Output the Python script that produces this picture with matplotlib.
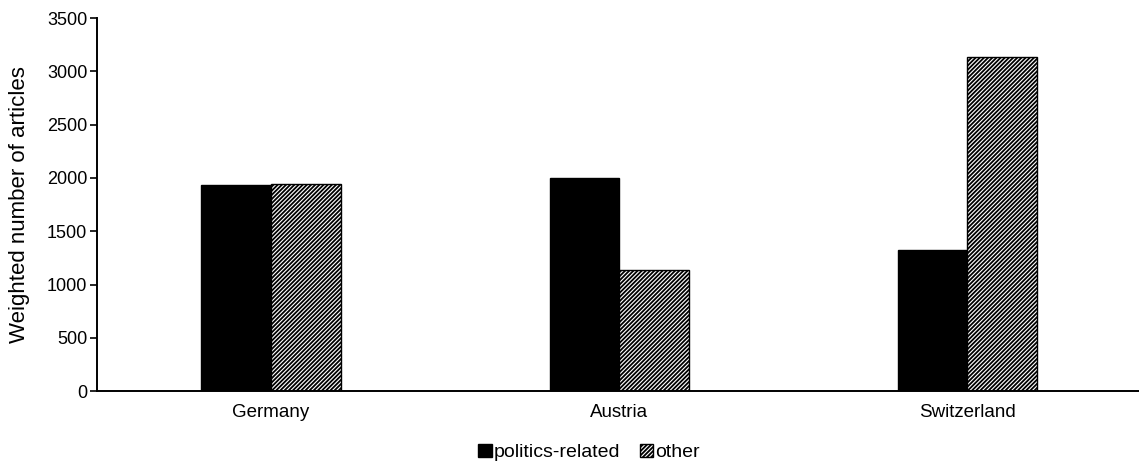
import numpy as np
import matplotlib.pyplot as plt

# Values
countries = ['Germany', 'Austria', 'Switzerland']
politics = [1930, 1995, 1323]
other = [1941, 1135, 3135]
y_ticks = [0, 500, 1000, 1500, 2000, 2500, 3000, 3500]

plt.rcParams['font.family'] = ['Liberation Sans', 'DejaVu Sans']
plt.rcParams['hatch.linewidth'] = 1.3

fig = plt.figure(figsize=(11.39, 4.65), dpi=100)
ax = fig.add_axes([0.0852, 0.159, 0.917, 0.802])

x = np.arange(len(countries))
w = 0.2
ax.bar(x - w / 2, politics, w, color='black', edgecolor='black', linewidth=1,
       label='politics-related')
ax.bar(x + w / 2, other, w, color='white', edgecolor='black', linewidth=1,
       hatch='////////', label='other')

ax.set_xlim(-0.5, 2.5)
ax.set_ylim(0, 3500)
ax.set_yticks(y_ticks)
ax.set_xticks(x)
ax.set_xticklabels(countries, fontsize=13.5)
ax.tick_params(axis='x', length=0, pad=9)
ax.tick_params(axis='y', labelsize=13, length=5, width=1.2, direction='out', pad=2)
ax.set_ylabel('Weighted number of articles', fontsize=16)
ax.yaxis.set_label_coords(-0.064, 0.5)

for s in ['top', 'right']:
    ax.spines[s].set_visible(False)
for s in ['left', 'bottom']:
    ax.spines[s].set_linewidth(1.4)

fig.legend(loc='center', bbox_to_anchor=(0.517, 0.027), ncol=2, frameon=False,
           fontsize=14, handlelength=0.7, handleheight=0.7, handletextpad=0.1,
           columnspacing=1.0)

plt.savefig('out.png', dpi=100)
